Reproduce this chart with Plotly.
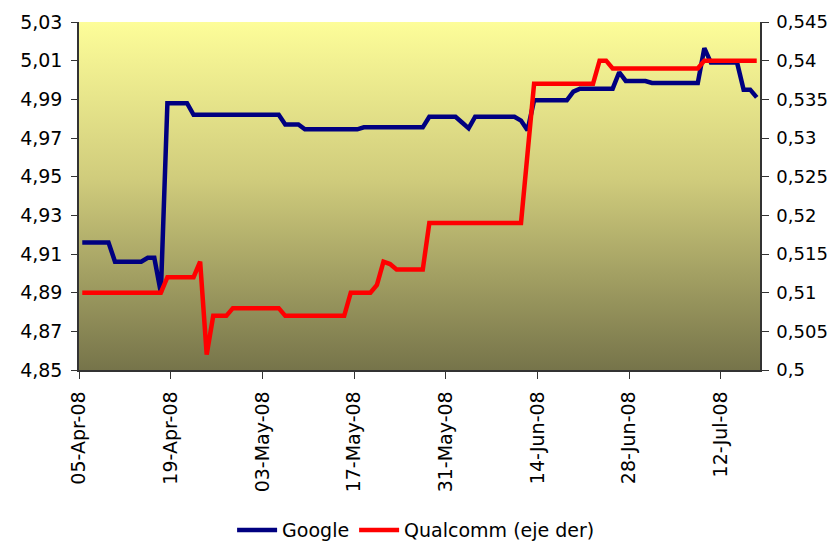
import plotly.graph_objects as go
import pandas as pd

# ---------------- data ----------------
start_date = "2008-04-05"
end_date = "2008-07-18"

google = [
    4.916, 4.916, 4.916, 4.916, 4.916,
    4.906, 4.906, 4.906, 4.906, 4.906,
    4.908, 4.908, 4.890,
    4.988, 4.988, 4.988, 4.988,
    4.982, 4.982, 4.982, 4.982, 4.982, 4.982, 4.982,
    4.982, 4.982, 4.982, 4.982, 4.982, 4.982, 4.982,
    4.977, 4.977, 4.977,
    4.9745, 4.9745, 4.9745, 4.9745, 4.9745, 4.9745, 4.9745, 4.9745, 4.9745,
    4.9755, 4.9755, 4.9755, 4.9755, 4.9755, 4.9755, 4.9755, 4.9755, 4.9755, 4.9755,
    4.981, 4.981, 4.981, 4.981, 4.981,
    4.978, 4.975,
    4.981, 4.981, 4.981, 4.981, 4.981, 4.981, 4.981,
    4.979, 4.974,
    4.9895, 4.9895, 4.9895, 4.9895, 4.9895, 4.9895,
    4.994,
    4.9955, 4.9955, 4.9955, 4.9955, 4.9955, 4.9955,
    5.004,
    4.9995, 4.9995, 4.9995, 4.9995,
    4.9985, 4.9985, 4.9985, 4.9985, 4.9985, 4.9985, 4.9985, 4.9985,
    5.0165,
    5.009, 5.009, 5.009, 5.009, 5.009,
    4.995, 4.995,
    4.991,
]

qualcomm = [
    0.510, 0.510, 0.510, 0.510, 0.510, 0.510, 0.510,
    0.510, 0.510, 0.510, 0.510, 0.510, 0.510,
    0.512, 0.512, 0.512, 0.512, 0.512,
    0.514, 0.502,
    0.507, 0.507, 0.507,
    0.508, 0.508, 0.508, 0.508, 0.508, 0.508, 0.508, 0.508,
    0.507, 0.507, 0.507, 0.507, 0.507, 0.507, 0.507, 0.507, 0.507, 0.507,
    0.510, 0.510, 0.510, 0.510,
    0.511, 0.514, 0.5137,
    0.513, 0.513, 0.513, 0.513, 0.513,
    0.519, 0.519, 0.519, 0.519, 0.519, 0.519, 0.519, 0.519,
    0.519, 0.519, 0.519, 0.519, 0.519, 0.519, 0.519,
    0.528,
    0.537, 0.537, 0.537, 0.537, 0.537, 0.537, 0.537, 0.537, 0.537, 0.537,
    0.540, 0.540,
    0.539, 0.539, 0.539, 0.539, 0.539, 0.539, 0.539,
    0.539, 0.539, 0.539, 0.539, 0.539, 0.539, 0.539,
    0.540, 0.540, 0.540, 0.540, 0.540, 0.540, 0.540, 0.540, 0.540,
]

x_tick_dates = ["2008-04-05", "2008-04-19", "2008-05-03", "2008-05-17",
                "2008-05-31", "2008-06-14", "2008-06-28", "2008-07-12"]
x_tick_labels = ["05-Apr-08", "19-Apr-08", "03-May-08", "17-May-08",
                 "31-May-08", "14-Jun-08", "28-Jun-08", "12-Jul-08"]

left_ticks = [4.85, 4.87, 4.89, 4.91, 4.93, 4.95, 4.97, 4.99, 5.01, 5.03]
left_labels = ["4,85", "4,87", "4,89", "4,91", "4,93", "4,95", "4,97", "4,99", "5,01", "5,03"]
right_ticks = [0.5, 0.505, 0.51, 0.515, 0.52, 0.525, 0.53, 0.535, 0.54, 0.545]
right_labels = ["0,5", "0,505", "0,51", "0,515", "0,52", "0,525", "0,53", "0,535", "0,54", "0,545"]

# daily observations, plotted in the middle of each day slot
dates = pd.date_range(start_date, periods=len(google), freq="D") + pd.Timedelta(hours=12)

FONT = "DejaVu Sans"
AX = "#333333"

fig = go.Figure()

# gradient plot-area background
fig.add_trace(go.Scatter(
    x=[start_date, end_date, end_date, start_date, start_date],
    y=[left_ticks[0], left_ticks[0], left_ticks[-1], left_ticks[-1], left_ticks[0]],
    mode="lines", line=dict(width=0), fill="toself",
    fillgradient=dict(type="vertical",
                      colorscale=[[0, "#76744A"], [0.55, "#D0CC7C"], [1, "#FDFD99"]]),
    showlegend=False, hoverinfo="skip",
))

fig.add_trace(go.Scatter(
    x=dates, y=google, name="Google", mode="lines",
    line=dict(color="#000080", width=4.5), yaxis="y",
))
fig.add_trace(go.Scatter(
    x=dates, y=qualcomm, name="Qualcomm (eje der)", mode="lines",
    line=dict(color="#FF0000", width=4.5), yaxis="y2",
))

# the page places the figure 8 px in from the top-left corner
fig.update_layout(
    width=828, height=540,
    margin=dict(l=71, r=76, t=14, b=178, autoexpand=False),
    paper_bgcolor="white", plot_bgcolor="rgba(0,0,0,0)",
    font=dict(family=FONT, size=19, color="black"),
    showlegend=True,
    legend=dict(orientation="h", x=0.495, xanchor="center", y=-0.46, yanchor="middle",
                font=dict(family=FONT, size=19, color="black"),
                bgcolor="rgba(0,0,0,0)", itemwidth=40, tracegroupgap=0),
    xaxis=dict(type="date", range=[start_date, end_date], automargin=False,
               tickvals=x_tick_dates, ticktext=x_tick_labels, tickangle=-90,
               ticks="outside", ticklen=7, tickcolor=AX, tickwidth=1,
               showline=True, linecolor=AX, linewidth=1.5,
               showgrid=False, zeroline=False, ticklabelstandoff=5),
    yaxis=dict(range=[left_ticks[0], left_ticks[-1]], automargin=False,
               tickvals=left_ticks, ticktext=left_labels,
               ticks="outside", ticklen=6, tickcolor=AX,
               showline=True, linecolor=AX, linewidth=1.5,
               showgrid=False, zeroline=False, ticklabelstandoff=5),
    yaxis2=dict(range=[right_ticks[0], right_ticks[-1]], automargin=False,
                tickvals=right_ticks, ticktext=right_labels,
                overlaying="y", side="right",
                ticks="outside", ticklen=7, tickcolor=AX,
                tickfont=dict(family=FONT, size=18, color="black"),
                showline=True, linecolor=AX, linewidth=1.5,
                showgrid=False, zeroline=False, ticklabelstandoff=4),
)

fig.write_html("out.html")
